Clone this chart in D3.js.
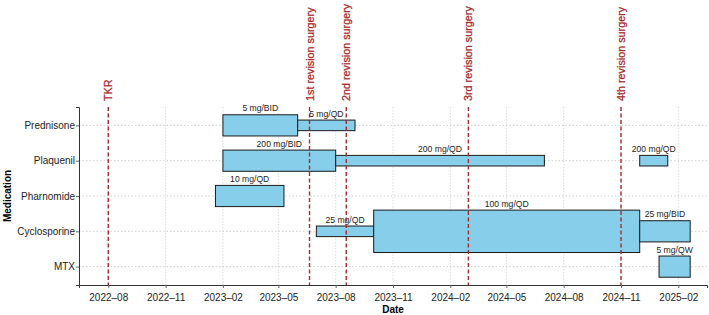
<!DOCTYPE html>
<html>
<head>
<meta charset="utf-8">
<script src="https://cdn.jsdelivr.net/npm/d3@7"></script>
<style>
  body { margin: 0; background: #fff; }
  text { font-family: "Liberation Sans", Arial, sans-serif; }
</style>
</head>
<body>
<script>
const medications = ['Prednisone', 'Plaquenil', 'Pharnomide', 'Cyclosporine', 'MTX']

// one entry per dosing period
const regimenDrug  = ['Prednisone', 'Prednisone', 'Plaquenil', 'Plaquenil', 'Plaquenil', 'Pharnomide', 'Cyclosporine', 'Cyclosporine', 'Cyclosporine', 'MTX']
const regimenStart = ['2023-02-01', '2023-06-01', '2023-02-01', '2023-08-01', '2024-12-01', '2023-01-20', '2023-07-01', '2023-10-01', '2024-12-01', '2025-01-01']
const regimenEnd   = ['2023-06-01', '2023-09-01', '2023-08-01', '2024-07-01', '2025-01-15', '2023-05-10', '2023-10-01', '2024-12-01', '2025-02-20', '2025-02-20']
const regimenDose  = ['5 mg/BID', '5 mg/QD', '200 mg/BID', '200 mg/QD', '200 mg/QD', '10 mg/QD', '25 mg/QD', '100 mg/QD', '25 mg/BID', '5 mg/QW']
const regimenLevel = [0.6, 0.3, 0.6, 0.3, 0.3, 0.6, 0.3, 1.2, 0.6, 0.6]

const eventNames = ['TKR', '1st revision surgery', '2nd revision surgery', '3rd revision surgery', '4th revision surgery']
const eventDates = ['2022-08-01', '2023-06-20', '2023-08-18', '2024-03-01', '2024-11-01']

const tickDates = ['2022-08-01', '2022-11-01', '2023-02-01', '2023-05-01', '2023-08-01', '2023-11-01', '2024-02-01', '2024-05-01', '2024-08-01', '2024-11-01', '2025-02-01']

const width = 709, height = 315
const margin = {top: 107, right: 2, bottom: 30, left: 79}
const parse = d3.utcParse('%Y-%m-%d')
const eventColor = '#a82a2a'

const svg = d3.select('body').append('svg')
  .attr('width', width)
  .attr('height', height)

const x = d3.scaleUtc()
  .domain([parse('2022-06-15'), parse('2025-03-19')])
  .range([margin.left, width - margin.right])

const y = d3.scaleLinear()
  .domain([-0.52, medications.length - 0.48])
  .range([margin.top, height - margin.bottom])

const yPos = name => y(medications.indexOf(name))

// grid
svg.append('g')
  .selectAll('line')
  .data(tickDates.map(parse))
  .join('line')
  .attr('x1', d => x(d)).attr('x2', d => x(d))
  .attr('y1', margin.top).attr('y2', height - margin.bottom)
  .attr('stroke', '#d4d4d4')
  .attr('stroke-width', 0.8)
  .attr('stroke-dasharray', '1.5,1.5')

svg.append('g')
  .selectAll('line')
  .data(medications)
  .join('line')
  .attr('x1', margin.left).attr('x2', width - margin.right)
  .attr('y1', d => yPos(d)).attr('y2', d => yPos(d))
  .attr('stroke', '#c4c4c4')
  .attr('stroke-width', 0.8)
  .attr('stroke-dasharray', '1.5,2')

// bars
const regimens = regimenDrug.map((drug, i) => ({
  drug,
  start: parse(regimenStart[i]),
  end: parse(regimenEnd[i]),
  dose: regimenDose[i],
  level: regimenLevel[i]
}))

const unit = Math.abs(y(1) - y(0))

svg.append('g')
  .selectAll('rect')
  .data(regimens)
  .join('rect')
  .attr('x', d => x(d.start))
  .attr('width', d => x(d.end) - x(d.start))
  .attr('y', d => yPos(d.drug) - d.level * unit / 2)
  .attr('height', d => d.level * unit)
  .attr('fill', '#87ceeb')
  .attr('stroke', '#1a1a1a')
  .attr('stroke-width', 1)

svg.append('g')
  .selectAll('text')
  .data(regimens)
  .join('text')
  .attr('x', d => (x(d.start) + x(d.end)) / 2)
  .attr('y', d => yPos(d.drug) - d.level * unit / 2 - 3.5)
  .attr('text-anchor', 'middle')
  .attr('font-size', 8.6)
  .attr('fill', '#222')
  .text(d => d.dose)

// event lines
const events = eventNames.map((name, i) => ({name, date: parse(eventDates[i])}))

svg.append('g')
  .selectAll('line')
  .data(events)
  .join('line')
  .attr('x1', d => x(d.date)).attr('x2', d => x(d.date))
  .attr('y1', margin.top).attr('y2', height - margin.bottom)
  .attr('stroke', eventColor)
  .attr('stroke-width', 1.4)
  .attr('stroke-dasharray', '4,2.5')

svg.append('g')
  .selectAll('text')
  .data(events)
  .join('text')
  .attr('transform', d => `translate(${x(d.date) + 4},${margin.top - 6}) rotate(-90)`)
  .attr('font-size', 10.8)
  .attr('fill', eventColor)
  .attr('stroke', eventColor)
  .attr('stroke-width', 0.25)
  .text(d => d.name)

// axes
const xAxis = svg.append('g')
  .attr('transform', `translate(0,${height - margin.bottom})`)
  .call(d3.axisBottom(x)
    .tickValues(tickDates.map(parse))
    .tickFormat(d3.utcFormat('%Y\u2013%m'))
    .tickSizeOuter(0)
    .tickSize(3))
xAxis.select('.domain').attr('stroke', '#333')
xAxis.selectAll('.tick line').attr('stroke', '#666')
xAxis.selectAll('.tick text')
  .attr('font-size', 10)
  .attr('fill', '#222')
  .attr('dy', '0.95em')

const yAxis = svg.append('g')
  .attr('transform', `translate(${margin.left},0)`)
  .call(d3.axisLeft(y)
    .tickValues(d3.range(medications.length))
    .tickFormat(i => medications[i])
    .tickSizeOuter(0)
    .tickSize(3))
yAxis.select('.domain').attr('stroke', '#333')
yAxis.selectAll('.tick line').attr('stroke', '#666')
yAxis.selectAll('.tick text')
  .attr('font-size', 10)
  .attr('fill', '#222')
  .attr('x', -4)

svg.append('text')
  .attr('x', (margin.left + width - margin.right) / 2)
  .attr('y', 313)
  .attr('text-anchor', 'middle')
  .attr('font-size', 10)
  .attr('font-weight', 'bold')
  .text('Date')

svg.append('text')
  .attr('transform', `translate(10.5,${(margin.top + height - margin.bottom) / 2}) rotate(-90)`)
  .attr('text-anchor', 'middle')
  .attr('font-size', 10)
  .attr('font-weight', 'bold')
  .text('Medication')
</script>
</body>
</html>
